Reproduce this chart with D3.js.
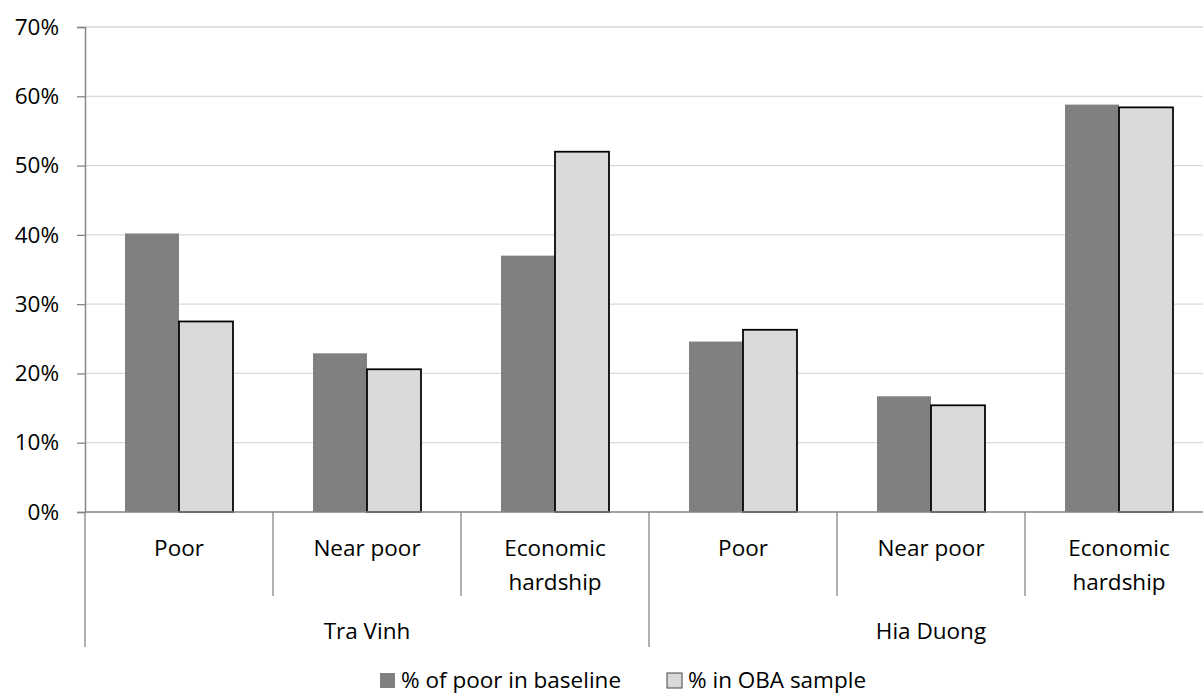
<!DOCTYPE html>
<html>
<head>
<meta charset="utf-8">
<script src="https://cdn.jsdelivr.net/npm/d3@7"></script>
<style>
  body { margin: 0; background: #fff; }
  svg { display: block; }
  text { font-family: "Open Sans", Lato, sans-serif; fill: #000; }
</style>
</head>
<body>
<div id="chart"></div>
<script>
// Values
const regions = ['Tra Vinh', 'Hia Duong']
const groupLines = [['Poor'], ['Near poor'], ['Economic', 'hardship']]
const seriesNames = ['% of poor in baseline', '% in OBA sample']
const baseline = [40.2, 22.9, 37.0, 24.6, 16.7, 58.8]
const obaSample = [27.5, 20.6, 52.0, 26.3, 15.4, 58.4]
const yTicks = [0, 10, 20, 30, 40, 50, 60, 70]

const total_width = 1203
const total_height = 695
const margins = { top: 27, left: 85, bottom: 183 }
const plotRight = 1213
const height = total_height - margins.top - margins.bottom
const fontSize = '22.5px'

const axisColor = '#868686'
const gridColor = '#d9d9d9'
const fills = ['#808080', '#d9d9d9']

svg = d3.select('#chart').append('svg')
  .attr('width', total_width)
  .attr('height', total_height)

// one slot per region x group
const cats = []
regions.forEach((r, ri) => groupLines.forEach((g, gi) => cats.push({ id: ri * 3 + gi, region: r, lines: g })))

x = d3.scaleBand().domain(cats.map(d => d.id)).range([margins.left, plotRight]).padding(0)
x1 = d3.scaleBand().domain([0, 1]).range([x.bandwidth() * 0.2128, x.bandwidth() * (1 - 0.2128)]).padding(0)
y = d3.scaleLinear().domain([0, 70]).range([margins.top + height, margins.top])

// gridlines
svg.append('g').selectAll('line')
  .data(yTicks.filter(d => d > 0))
  .join('line')
  .attr('x1', margins.left).attr('x2', plotRight)
  .attr('y1', d => y(d)).attr('y2', d => y(d))
  .attr('stroke', gridColor).attr('stroke-width', 1.3)

// bars
const rows = cats.map((c, i) => [baseline[i], obaSample[i]])
const groupsG = svg.append('g').selectAll('g')
  .data(rows)
  .join('g')
  .attr('transform', (d, i) => `translate(${x(i)},0)`)

groupsG.selectAll('rect')
  .data(d => d.map((v, k) => ({ v, k })))
  .join('rect')
  .attr('x', d => x1(d.k))
  .attr('width', x1.bandwidth())
  .attr('y', d => y(d.v))
  .attr('height', d => y(0) - y(d.v))
  .attr('fill', d => fills[d.k])
  .attr('stroke', d => d.k === 1 ? '#000' : 'none')
  .attr('stroke-width', 1.75)

// y axis
yAxis = svg.append('g')
  .attr('transform', `translate(${margins.left},0)`)
  .call(d3.axisLeft(y).tickValues(yTicks).tickSize(8).tickPadding(18).tickFormat(d => d + '%'))
yAxis.select('.domain').attr('stroke', axisColor).attr('stroke-width', 1.5)
yAxis.selectAll('.tick line').attr('stroke', axisColor).attr('stroke-width', 1.3)
yAxis.selectAll('.tick text').style('font-size', fontSize).attr('fill', '#000')
  .style('font-family', '"Open Sans", Lato, sans-serif')

// x axis baseline
svg.append('line')
  .attr('x1', margins.left).attr('x2', plotRight)
  .attr('y1', y(0)).attr('y2', y(0))
  .attr('stroke', axisColor).attr('stroke-width', 1.5)

// category separators: short ones inside a region, long ones between regions
const innerBottom = y(0) + 84
const outerBottom = y(0) + 135
const seps = d3.range(cats.length + 1)
svg.append('g').selectAll('line')
  .data(seps)
  .join('line')
  .attr('x1', i => i < cats.length ? x(i) : plotRight)
  .attr('x2', i => i < cats.length ? x(i) : plotRight)
  .attr('y1', y(0))
  .attr('y2', i => i % 3 === 0 ? outerBottom : innerBottom)
  .attr('stroke', axisColor).attr('stroke-width', 1.3)

// category labels
const catLabels = svg.append('g').selectAll('text')
  .data(cats)
  .join('text')
  .attr('text-anchor', 'middle')
  .attr('x', d => x(d.id) + x.bandwidth() / 2)
  .attr('y', y(0) + 44)
  .style('font-size', fontSize)
catLabels.selectAll('tspan')
  .data(d => d.lines)
  .join('tspan')
  .attr('x', function () { return d3.select(this.parentNode).attr('x') })
  .attr('dy', (d, i) => i === 0 ? 0 : 33.5)
  .text(d => d)

// region labels
svg.append('g').selectAll('text')
  .data(regions)
  .join('text')
  .attr('text-anchor', 'middle')
  .attr('x', (d, i) => (x(i * 3) + (i === regions.length - 1 ? plotRight : x(i * 3 + 3))) / 2)
  .attr('y', y(0) + 127)
  .style('font-size', fontSize)
  .text(d => d)

// legend
const legend = svg.append('g').attr('transform', `translate(0, ${total_height - 7})`)
let lx = 380
seriesNames.forEach((name, k) => {
  legend.append('rect')
    .attr('x', lx).attr('y', -15)
    .attr('width', 15).attr('height', 15)
    .attr('fill', fills[k])
    .attr('stroke', k === 1 ? '#444' : 'none')
    .attr('stroke-width', 1)
  const t = legend.append('text')
    .attr('x', lx + 21).attr('y', 0)
    .style('font-size', fontSize)
    .text(name)
  lx += 21 + t.node().getComputedTextLength() + 46
})
</script>
</body>
</html>
